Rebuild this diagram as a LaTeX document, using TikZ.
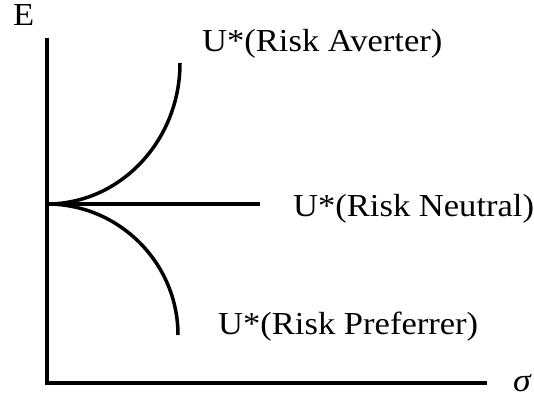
\documentclass[tikz,border=0pt]{standalone}
\usepackage{fontspec}
\setmainfont{Liberation Serif}[FakeStretch=1.08]
\begin{document}
\begin{tikzpicture}[x=1pt,y=-1pt,
  curve/.style={line width=3.5pt},
  axis/.style={line width=4pt,line join=miter},
  lbl/.style={anchor=base west,inner sep=0pt,font=\fontsize{32}{38}\selectfont}]
\useasboundingbox (0,0) rectangle (534,401);
% axes
\coordinate (ytop) at (47,38);
\coordinate (corner) at (47,383);
\coordinate (xend) at (487,383);
\draw[axis] (ytop) -- (corner) -- (xend);
% indifference curves from the common intercept
\coordinate (O) at (47,204);
\coordinate (av) at (180,63);
\coordinate (ne) at (260,204);
\coordinate (pr) at (178,335);
\draw[curve] (O) .. controls (120,204) and (180,141) .. (av);
\draw[curve] (O) -- (ne);
\draw[curve] (O) .. controls (119,204) and (178,263) .. (pr);
% labels
\node[lbl] (E) at (13,26) {E};
\node[lbl] (lav) at (202,52) {U*(Risk Averter)};
\node[lbl] (lne) at (293,216) {U*(Risk Neutral)};
\node[lbl] (lpr) at (218,334) {U*(Risk Preferrer)};
\node[lbl,font=\fontsize{33}{38}\selectfont\itshape] (sig) at (513,391) {σ};
\end{tikzpicture}
\end{document}
